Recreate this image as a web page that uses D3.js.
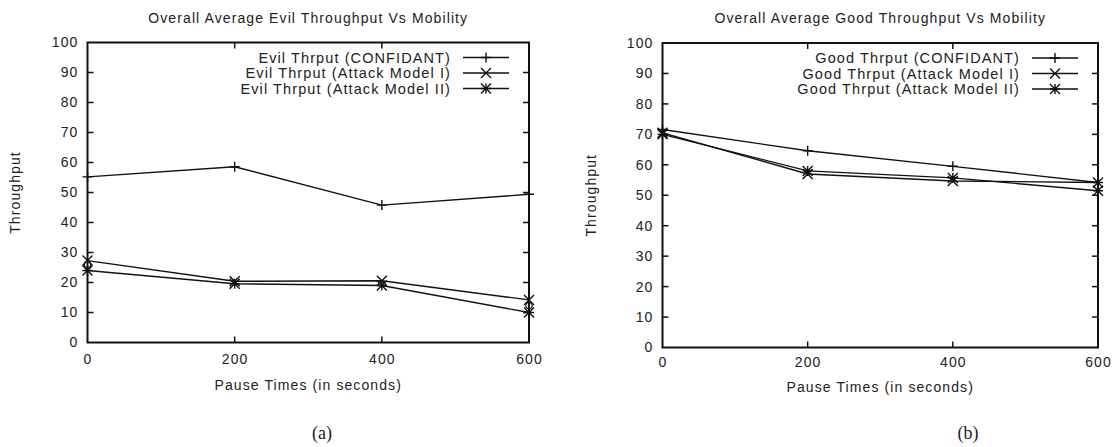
<!DOCTYPE html>
<html><head><meta charset="utf-8">
<script src="https://cdn.jsdelivr.net/npm/d3@7"></script>
<style>
body{margin:0;background:#fff;}
svg text{font-family:"Liberation Sans",Arial,sans-serif;fill:#222;}
</style></head>
<body><svg id="c" width="1120" height="447"></svg>
<script>
const pauseTimes = [0, 200, 400, 600];
const xTicks = [0, 200, 400, 600];
const yTicks = [0,10,20,30,40,50,60,70,80,90,100];

const evilConfidant = [55.2, 58.6, 45.8, 49.4];
const evilAttack1   = [27.3, 20.4, 20.6, 14.2];
const evilAttack2   = [24.0, 19.6, 19.0, 10.0];
// stray small circle points visible at the panel edges in (a)
const evilCircleTimes  = [0, 600];
const evilCircleValues = [26.0, 12.3];

const goodConfidant = [71.6, 64.6, 59.5, 54.2];
const goodAttack1   = [70.5, 57.0, 54.7, 54.2];
const goodAttack2   = [70.0, 58.0, 55.7, 51.5];

const panels = [
  {title:"Overall Average Evil Throughput Vs Mobility", caption:"(a)",
   series:[{name:"Evil Thrput (CONFIDANT)", values:evilConfidant, marker:"plus"},
           {name:"Evil Thrput (Attack Model I)", values:evilAttack1, marker:"cross"},
           {name:"Evil Thrput (Attack Model II)", values:evilAttack2, marker:"star"}],
   circles:{t:evilCircleTimes, v:evilCircleValues},
   box:{x0:87.5, x1:529, y0:42.5, y1:342.5}, ylabX:20, capX:322, xtOff:47, tpad:12},
  {title:"Overall Average Good Throughput Vs Mobility", caption:"(b)",
   series:[{name:"Good Thrput (CONFIDANT)", values:goodConfidant, marker:"plus"},
           {name:"Good Thrput (Attack Model I)", values:goodAttack1, marker:"cross"},
           {name:"Good Thrput (Attack Model II)", values:goodAttack2, marker:"star"}],
   circles:null,
   box:{x0:662.5, x1:1098, y0:43, y1:347.5}, ylabX:596, capX:968, xtOff:44, tpad:10}
];

const svg = d3.select("#c");
const FS = 14;
const LS = "1.1px";

function marker(g, type, x, y){
  const s = 5;
  const p = d3.path();
  if(type==="plus"||type==="star"){ p.moveTo(x-s,y); p.lineTo(x+s,y); p.moveTo(x,y-s); p.lineTo(x,y+s); }
  if(type==="cross"||type==="star"){ p.moveTo(x-s,y-s); p.lineTo(x+s,y+s); p.moveTo(x-s,y+s); p.lineTo(x+s,y-s); }
  g.append("path").attr("d", p.toString()).attr("stroke","#111").attr("stroke-width",1.4).attr("fill","none");
}

panels.forEach(P=>{
  const b = P.box;
  const x = d3.scaleLinear().domain([0,600]).range([b.x0,b.x1]);
  const y = d3.scaleLinear().domain([0,100]).range([b.y1,b.y0]);
  const g = svg.append("g");

  const styleAxis = a=>{a.select(".domain").remove();
    a.selectAll("text").attr("font-size",FS).attr("font-family","Liberation Sans").attr("fill","#222").style("letter-spacing",LS);};
  g.append("g").attr("transform",`translate(0,${b.y1})`)
    .call(d3.axisBottom(x).tickValues(xTicks).tickSize(0).tickPadding(P.tpad)).call(styleAxis);
  g.append("g").attr("transform",`translate(${b.x0},0)`)
    .call(d3.axisLeft(y).tickValues(yTicks).tickSize(0).tickPadding(9)).call(styleAxis);

  const tk = 6;
  yTicks.slice(1,-1).forEach(v=>{
    g.append("line").attr("x1",b.x0).attr("x2",b.x0+tk).attr("y1",y(v)).attr("y2",y(v)).attr("stroke","#111").attr("stroke-width",1.5);
    g.append("line").attr("x1",b.x1).attr("x2",b.x1-tk).attr("y1",y(v)).attr("y2",y(v)).attr("stroke","#111").attr("stroke-width",1.5);
  });
  xTicks.slice(1,-1).forEach(v=>{
    g.append("line").attr("x1",x(v)).attr("x2",x(v)).attr("y1",b.y1).attr("y2",b.y1-tk).attr("stroke","#111").attr("stroke-width",1.5);
    g.append("line").attr("x1",x(v)).attr("x2",x(v)).attr("y1",b.y0).attr("y2",b.y0+tk).attr("stroke","#111").attr("stroke-width",1.5);
  });
  g.append("rect").attr("x",b.x0).attr("y",b.y0).attr("width",b.x1-b.x0).attr("height",b.y1-b.y0)
    .attr("fill","none").attr("stroke","#111").attr("stroke-width",2);

  const cx = (b.x0+b.x1)/2;
  g.append("text").attr("x",cx).attr("y",23).attr("text-anchor","middle").attr("font-size",FS).style("letter-spacing",LS).text(P.title);
  g.append("text").attr("x",cx).attr("y",b.y1+P.xtOff).attr("text-anchor","middle").attr("font-size",FS).style("letter-spacing",LS).text("Pause Times (in seconds)");
  g.append("text").attr("transform",`translate(${P.ylabX},${(b.y0+b.y1)/2}) rotate(-90)`).attr("text-anchor","middle").attr("font-size",FS).style("letter-spacing",LS).text("Throughput");
  g.append("text").attr("x",P.capX).attr("y",439).attr("text-anchor","middle")
    .attr("font-size",18).style("font-family","Liberation Serif").text(P.caption);

  const line = d3.line().x((d,i)=>x(pauseTimes[i])).y(d=>y(d));
  P.series.forEach((s,k)=>{
    g.append("path").datum(s.values).attr("d",line).attr("fill","none").attr("stroke","#111").attr("stroke-width",1.4);
    s.values.forEach((v,i)=>marker(g,s.marker,x(pauseTimes[i]),y(v)));
    const ly = b.y0 + 15 + k*15.5;
    const lx = b.x1 - 78;
    g.append("text").attr("x",lx).attr("y",ly+5).attr("text-anchor","end").attr("font-size",FS+0.5).style("letter-spacing",LS).text(s.name);
    g.append("line").attr("x1",lx+12).attr("x2",lx+58).attr("y1",ly).attr("y2",ly).attr("stroke","#111").attr("stroke-width",1.4);
    marker(g,s.marker,lx+35,ly);
  });
  if(P.circles){
    P.circles.v.forEach((v,i)=>{
      g.append("circle").attr("cx",x(P.circles.t[i])).attr("cy",y(v)).attr("r",3.2)
        .attr("fill","none").attr("stroke","#111").attr("stroke-width",1.2);
    });
  }
});
</script></body></html>
